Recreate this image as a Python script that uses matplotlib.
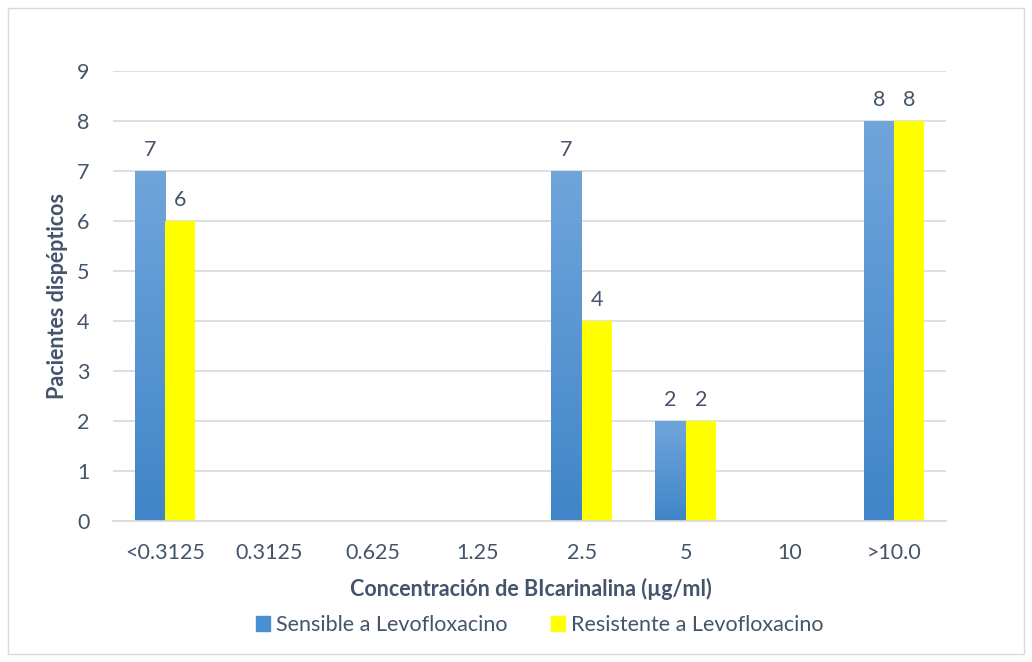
import numpy as np
import matplotlib
matplotlib.use("Agg")
import matplotlib.pyplot as plt
from matplotlib.colors import LinearSegmentedColormap
from matplotlib.patches import Rectangle

categories = ["<0.3125", "0.3125", "0.625", "1.25", "2.5", "5", "10", ">10.0"]
sensible = [7, 0, 0, 0, 7, 2, 0, 8]
resistente = [6, 0, 0, 0, 4, 2, 0, 8]
series_names = ["Sensible a Levofloxacino", "Resistente a Levofloxacino"]

text_color = "#44546A"
grid_color = "#D9D9D9"
fs = 15.5
plt.rcParams["font.family"] = ["Lato", "DejaVu Sans"]

W, H = 1032, 662
fig = plt.figure(figsize=(W / 100, H / 100), dpi=100)
ax = fig.add_axes([113 / W, 1 - 521 / H, (946 - 113) / W, 450 / H])

# thin frame around the whole chart
fig.patches.append(Rectangle((8 / W, 8 / H), 1 - 16 / W, 1 - 16 / H,
                             transform=fig.transFigure, fill=False,
                             edgecolor="#D9D9D9", linewidth=1))

blue_grad = LinearSegmentedColormap.from_list("bl", ["#4085C8", "#70A5DB"])
grad = np.linspace(0, 1, 256).reshape(-1, 1)

x = np.arange(len(categories))
w = 0.29

for i, v in enumerate(sensible):
    if v > 0:
        ax.imshow(grad, cmap=blue_grad, origin="lower", aspect="auto",
                  extent=(x[i] - w, x[i], 0, v), zorder=2)
        ax.text(x[i] - w / 2, v + 0.22, str(v), ha="center", va="bottom",
                fontsize=fs, color=text_color)

ax.bar(x + w / 2, resistente, width=w, color="#FFFF00", zorder=2)
for i, v in enumerate(resistente):
    if v > 0:
        ax.text(x[i] + w / 2, v + 0.22, str(v), ha="center", va="bottom",
                fontsize=fs, color=text_color)

ax.set_xlim(-0.5, len(categories) - 0.5)
ax.set_ylim(0, 9)
ax.set_yticks(range(10))
ax.set_xticks(x)
ax.set_xticklabels(categories)
ax.yaxis.grid(True, color=grid_color, linewidth=1.2, zorder=0)
ax.set_axisbelow(True)
for s in ["top", "right", "left"]:
    ax.spines[s].set_visible(False)
ax.spines["bottom"].set_color(grid_color)
ax.spines["bottom"].set_linewidth(1.2)
ax.tick_params(axis="both", length=0, labelsize=fs, labelcolor=text_color)
ax.tick_params(axis="y", pad=17)
ax.tick_params(axis="x", pad=16)

# axis titles
fig.text(57 / W, 1 - 296 / H, "Pacientes dispépticos", rotation=90,
         ha="center", va="center", fontsize=fs, fontweight="bold", color=text_color)
fig.text(531 / W, 1 - 589 / H, "Concentración de BIcarinalina (µg/ml)",
         ha="center", va="center", fontsize=fs, fontweight="bold", color=text_color)

handles = [Rectangle((0, 0), 1, 1, color="#4A8FD3"),
           Rectangle((0, 0), 1, 1, color="#FFFF00")]
fig.legend(handles, series_names, loc="center", bbox_to_anchor=(540 / W, 1 - 625 / H),
           ncol=2, frameon=False, fontsize=fs, labelcolor=text_color,
           handlelength=0.65, handleheight=0.65, handletextpad=0.3, columnspacing=2.0,
           borderpad=0)

fig.savefig("out.png", dpi=100)
